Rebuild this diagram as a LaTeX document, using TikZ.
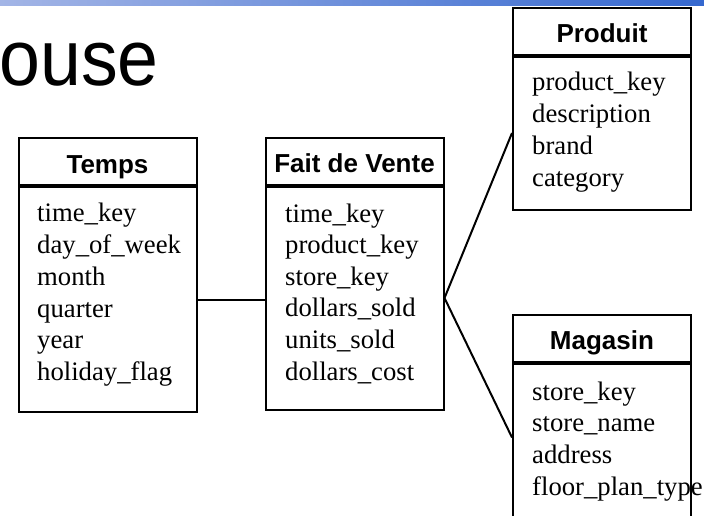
\documentclass[tikz,border=0pt]{standalone}
\usepackage{fontspec}
\setmainfont{Liberation Serif}
\newfontfamily\headfont{Liberation Sans}
\usetikzlibrary{calc}

\definecolor{barleft}{HTML}{A3B5E6}
\definecolor{barright}{HTML}{3568CF}

\begin{document}
\begin{tikzpicture}[x=1pt,y=-1pt,
  tablehead/.style={draw, line width=2pt, inner sep=0pt, minimum width=178pt,
    minimum height=47pt, text height=23pt, text depth=0pt,
    font=\headfont\bfseries\fontsize{26}{30}\selectfont},
  tablebody/.style={draw, line width=2pt, inner sep=0pt, minimum width=178pt, anchor=north},
  field/.style={anchor=base west, inner sep=0pt, font=\fontsize{26.7}{32}\selectfont},
  link/.style={line width=2pt}]

\useasboundingbox (0,0) rectangle (704,515);
\clip (0,0) rectangle (704,515);

% title strip
\shade[left color=barleft, right color=barright] (0,0) rectangle (704,5);
\node[anchor=base east, inner sep=0pt, font=\headfont\fontsize{79}{79}\selectfont]
  (title) at (159,85) {\scalebox{0.93}[1]{ouse}};

% Temps
\node[tablehead] (temps-h) at (107.5,161.5) {Temps};
\node[tablebody, minimum height=225pt] (temps-b) at (temps-h.south) {};
\foreach \t [count=\i from 0] in {time\_key,day\_of\_week,month,quarter,year,holiday\_flag}
  \node[field] (temps-f\i) at (37,221.7+31.8*\i) {\t};

% Fait de Vente
\node[tablehead] (fait-h) at (354.5,161) {Fait de Vente};
\node[tablebody, minimum height=223pt] (fait-b) at (fait-h.south) {};
\foreach \t [count=\i from 0] in {time\_key,product\_key,store\_key,dollars\_sold,units\_sold,dollars\_cost}
  \node[field] (fait-f\i) at (285,222+31.6*\i) {\t};

% Produit
\node[tablehead] (prod-h) at (602,31) {Produit};
\node[tablebody, minimum height=153pt] (prod-b) at (prod-h.south) {};
\foreach \t [count=\i from 0] in {product\_key,description,brand,category}
  \node[field] (prod-f\i) at (532,90.7+32*\i) {\t};

% Magasin
\node[tablehead] (mag-h) at (602,338) {Magasin};
\node[tablebody, minimum height=200pt] (mag-b) at (mag-h.south) {};
\foreach \t [count=\i from 0] in {store\_key,store\_name,address,floor\_plan\_type}
  \node[field] (mag-f\i) at (532,400+31.7*\i) {\t};
\coordinate (mag-link) at ($(mag-b.north west)+(0,75)$);

% links from the fact table
\draw[link] (temps-b.east) -- (temps-b.east -| fait-b.west);
\draw[link] (fait-b.east) -- (prod-b.west);
\draw[link] (fait-b.east) -- (mag-link);
\end{tikzpicture}
\end{document}
